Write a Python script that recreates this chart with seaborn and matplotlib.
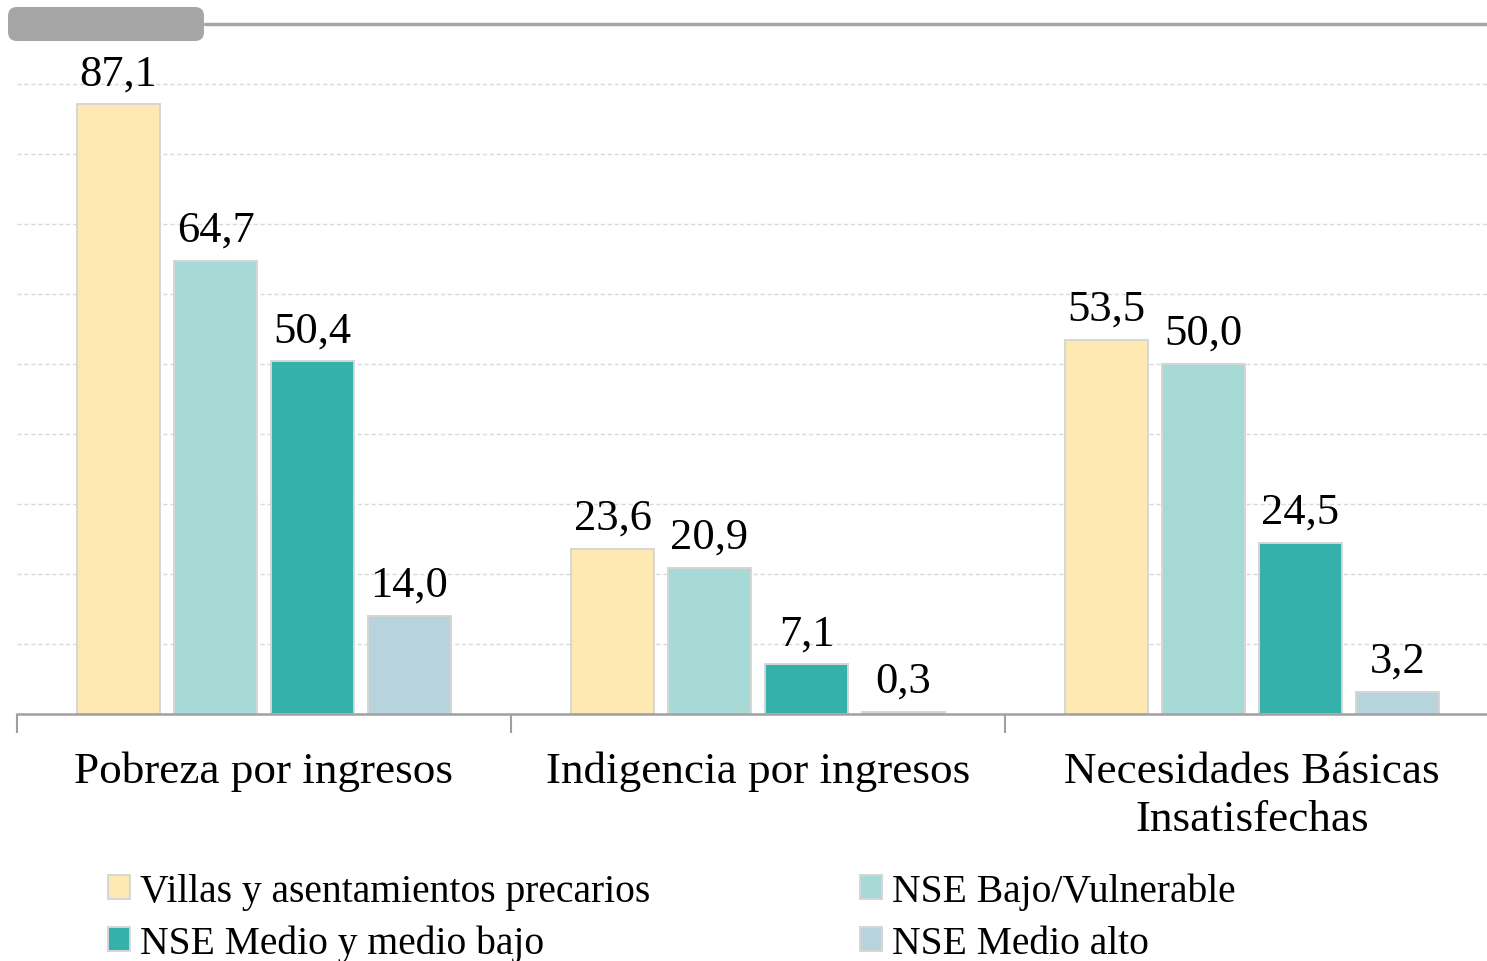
import numpy as np
import pandas as pd
import matplotlib
matplotlib.use("Agg")
import matplotlib.pyplot as plt
from matplotlib.patches import FancyBboxPatch
from matplotlib.lines import Line2D
import seaborn as sns

categorias = ["Pobreza por ingresos", "Indigencia por ingresos", "Necesidades Básicas\nInsatisfechas"]
series = ["Villas y asentamientos precarios", "NSE Bajo/Vulnerable",
          "NSE Medio y medio bajo", "NSE Medio alto"]
villas = [87.1, 23.6, 53.5]
bajo = [64.7, 20.9, 50.0]
medio_bajo = [50.4, 7.1, 24.5]
medio_alto = [14.0, 0.3, 3.2]
colores = ["#FEE9B2", "#A7D9D6", "#36B0AB", "#B7D4DE"]

valores = [villas, bajo, medio_bajo, medio_alto]
df = pd.DataFrame({
    "categoria": np.tile(categorias, len(series)),
    "serie": np.repeat(series, len(categorias)),
    "valor": np.concatenate(valores),
})

sns.set_style("white")
plt.rcParams["font.family"] = ["Liberation Serif", "DejaVu Serif"]
plt.rcParams["text.color"] = "black"
plt.rcParams["xtick.color"] = "#A0A0A0"
plt.rcParams["xtick.labelcolor"] = "black"

W, H = 1487, 962
fig = plt.figure(figsize=(W / 100, H / 100), dpi=100)
ax = fig.add_axes([17 / W, (H - 715) / H, 1482 / W, 700 / H])

sns.barplot(data=df, x="categoria", y="valor", hue="serie", palette=colores,
            saturation=1, width=0.785, gap=0.15, edgecolor="#D6D6D6", linewidth=1.4,
            errorbar=None, ax=ax)

ax.set_xlim(-0.5, 2.5)
ax.set_ylim(0, 100)
ax.set_yticks(np.arange(10, 100, 10))
ax.set_yticklabels([])
ax.tick_params(axis="y", length=0)
ax.grid(axis="y", color="#D9D9D9", linestyle=(0, (3, 2)), linewidth=1)
ax.set_axisbelow(True)
for s in ["left", "right", "top"]:
    ax.spines[s].set_visible(False)
ax.spines["bottom"].set_color("#A0A0A0")
ax.spines["bottom"].set_linewidth(1.8)

ax.set_xlabel("")
ax.set_ylabel("")
ax.tick_params(axis="x", which="major", bottom=False, pad=23, labelsize=32.5)
ax.set_xticks([-0.5, 0.5, 1.5, 2.5], minor=True)
ax.tick_params(axis="x", which="minor", bottom=True, length=14, width=1.5,
               color="#A0A0A0", direction="out")
for lab in ax.get_xticklabels():
    lab.set_linespacing(1.25)

for cont in ax.containers:
    ax.bar_label(cont, fmt=lambda v: f"{v:.1f}".replace(".", ","), padding=8, fontsize=32)

handles, labels = ax.get_legend_handles_labels()
ax.get_legend().remove()
for idx, x0 in [([0, 2], 92 / W), ([1, 3], 844 / W)]:
    fig.legend([handles[i] for i in idx], [labels[i] for i in idx],
               loc="upper left", bbox_to_anchor=(x0, (H - 858) / H),
               frameon=False, fontsize=28.5, handlelength=0.55, handleheight=0.55,
               handletextpad=0.25, labelspacing=0.36, borderaxespad=0)

# encabezado decorativo
fig.add_artist(Line2D([205 / W, 1], [(H - 25) / H] * 2, color="#A6A6A6", linewidth=2.5))
fig.add_artist(FancyBboxPatch((8 / W, (H - 42) / H), 196 / W, 34 / H,
                              boxstyle="round,pad=0,rounding_size=0.006",
                              facecolor="#A6A6A6", edgecolor="none",
                              transform=fig.transFigure, mutation_aspect=W / H))

fig.savefig("out.png", dpi=100)
